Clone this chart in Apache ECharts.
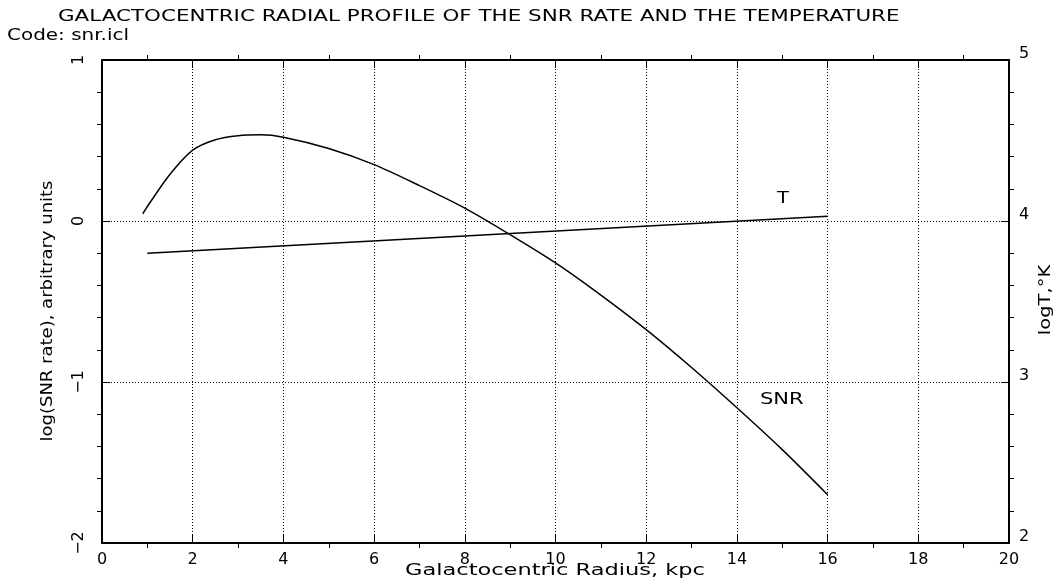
<!DOCTYPE html>
<html>
<head>
<meta charset="utf-8">
<script src="https://cdn.jsdelivr.net/npm/echarts@6/dist/echarts.min.js"></script>
<style>
  html, body { margin: 0; padding: 0; background: #fff; }
  #chart { width: 1063px; height: 586px; }
</style>
</head>
<body>
<div id="chart"></div>
<script>
// radius, kpc
const snrRadius = [0.9, 1.0, 1.5, 2, 2.5, 3, 3.5, 4, 5, 6, 7, 8, 9, 10, 11, 12, 13, 14, 15, 16];
// log(SNR rate)
const snrValues = [0.045, 0.09, 0.29, 0.44, 0.505, 0.53, 0.535, 0.52, 0.45, 0.35, 0.22, 0.08, -0.085, -0.26, -0.46, -0.675, -0.91, -1.16, -1.42, -1.70];
// log T
const tRadius = [1, 16];
const tValues = [3.80, 4.03];

const xTicks = [0, 2, 4, 6, 8, 10, 12, 14, 16, 18, 20];
const leftTicks = [-2, -1, 0, 1];
const rightTicks = [2, 3, 4, 5];

const font = 'DejaVu Sans';
const ink = '#000';

let chart = echarts.init(document.getElementById('chart'));

function pairs(xs, ys) {
    return xs.map((x, i) => [x, ys[i]]);
}

function fmtMinus(v) {
    return String(v).replace('-', '\u2212');
}

// the original plot font is wider than DejaVu, so stretch it a bit
function label(text, x, y, wide, align, rot) {
    return {
        type: 'text',
        x: x, y: y,
        rotation: rot || 0,
        scaleX: wide,
        style: { text: text, font: '15px ' + font, fill: ink, align: align || 'left', verticalAlign: 'middle' }
    };
}

let frameLine = { show: true, onZero: false, lineStyle: { color: ink, width: 2 } };
let tick = { show: true, inside: true, length: 8, lineStyle: { color: ink, width: 1 } };
let minor = (n) => ({ show: true, splitNumber: n, length: -5, lineStyle: { color: ink, width: 1 } });
let dotted = { show: true, lineStyle: { color: ink, type: [1, 2], width: 1 } };

let option = {
    backgroundColor: '#fff',
    animation: false,
    textStyle: { fontFamily: font, color: ink },
    grid: { left: 102, right: 54, top: 60, bottom: 43 },
    graphic: [
        label('GALACTOCENTRIC RADIAL PROFILE OF THE SNR RATE AND THE TEMPERATURE', 58, 17, 1.43),
        label('Code: snr.icl', 7, 36, 1.33),
        label('T', 777, 199, 1.3),
        label('SNR', 760, 400, 1.4),
        label('Galactocentric Radius, kpc', 555, 571, 1.5, 'center'),
        label('log(SNR rate), arbitrary units', 48, 311, 1.2, 'center', Math.PI / 2),
        label('logT,\u00b0K', 1046, 300, 1.3, 'center', Math.PI / 2)
    ],
    xAxis: [{
        type: 'value',
        position: 'bottom',
        min: xTicks[0], max: xTicks[xTicks.length - 1], interval: 2,
        axisLine: frameLine,
        axisTick: tick,
        minorTick: minor(2),
        splitLine: dotted,
        axisLabel: { color: ink, fontSize: 16, fontFamily: font, margin: 9 }
    }, {
        type: 'value',
        position: 'top',
        min: xTicks[0], max: xTicks[xTicks.length - 1], interval: 2,
        axisLine: frameLine,
        axisTick: tick,
        minorTick: minor(2),
        splitLine: { show: false },
        axisLabel: { show: false }
    }],
    yAxis: [{
        type: 'value',
        position: 'left',
        min: leftTicks[0], max: leftTicks[leftTicks.length - 1], interval: 1,
        axisLine: frameLine,
        axisTick: tick,
        minorTick: minor(5),
        splitLine: dotted,
        axisLabel: { color: ink, fontSize: 16, fontFamily: font, rotate: 90, margin: 15, formatter: fmtMinus }
    }, {
        type: 'value',
        position: 'right',
        min: rightTicks[0], max: rightTicks[rightTicks.length - 1], interval: 1,
        axisLine: frameLine,
        axisTick: tick,
        minorTick: minor(5),
        splitLine: { show: false },
        axisLabel: { color: ink, fontSize: 16, fontFamily: font, margin: 10, verticalAlign: 'bottom', lineHeight: 12 }
    }],
    series: [{
        name: 'SNR',
        type: 'line',
        xAxisIndex: 0,
        yAxisIndex: 0,
        data: pairs(snrRadius, snrValues),
        smooth: 0.3,
        symbol: 'none',
        lineStyle: { color: ink, width: 1.5 }
    }, {
        name: 'T',
        type: 'line',
        xAxisIndex: 0,
        yAxisIndex: 1,
        data: pairs(tRadius, tValues),
        symbol: 'none',
        lineStyle: { color: ink, width: 1.5 }
    }]
};

chart.setOption(option);
</script>
</body>
</html>
